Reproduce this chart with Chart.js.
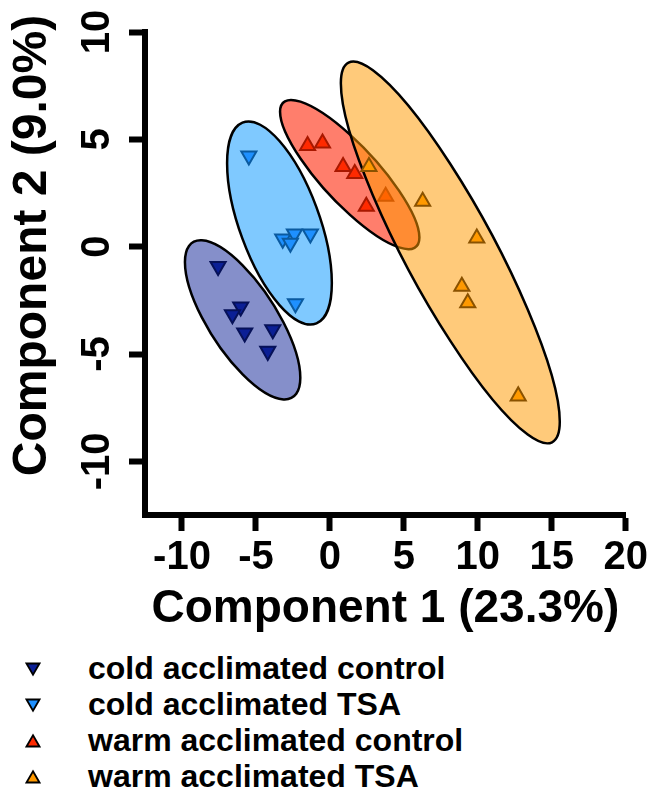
<!DOCTYPE html>
<html>
<head>
<meta charset="utf-8">
<script src="https://cdn.jsdelivr.net/npm/chart.js@4.4.1/dist/chart.umd.min.js"></script>
<style>
  html, body { margin: 0; padding: 0; background: #fff; overflow: hidden; }
  #wrap { position: absolute; left: 0; top: 0; width: 651px; height: 640px; }
  #legend { position: absolute; left: 0; top: 650px; width: 651px;
            font: bold 32px "Liberation Sans", Arial, sans-serif; color: #000; }
  .row { position: relative; height: 36px; line-height: 36px; white-space: nowrap; }
  .row svg { position: absolute; left: 25px; top: 11px; }
  .row span { position: absolute; left: 88px; top: 0; }
</style>
</head>
<body>
<div id="wrap"><canvas id="pca"></canvas></div>
<div id="legend"></div>
<script>
const groupLabels = ['cold acclimated control', 'cold acclimated TSA', 'warm acclimated control', 'warm acclimated TSA'];

// PCA scores
const coldControlX = [-7.56, -6.03, -6.59, -5.76, -3.86, -4.20];
const coldControlY = [-0.92, -2.80, -3.16, -4.01, -3.86, -4.87];
const coldTsaX = [-5.48, -3.19, -2.40, -2.67, -1.32, -2.33];
const coldTsaY = [4.23, 0.36, 0.60, 0.17, 0.60, -2.65];
const warmControlX = [-1.51, -0.50, 0.89, 1.68, 2.46, 3.77];
const warmControlY = [4.70, 4.82, 3.73, 3.40, 1.87, 2.34];
const warmTsaX = [2.64, 6.27, 9.93, 8.92, 9.32, 12.73];
const warmTsaY = [3.73, 2.11, 0.40, -1.85, -2.62, -6.96];

// group ellipses: centre + two conjugate half-axes (second one vertical), in component units
const ellipseCx = [-5.90, -3.41, 1.34, 8.14];
const ellipseCy = [-3.41, 1.10, 3.36, -0.27];
const ellipseAx = [3.90, 3.54, 4.71, 7.40];
const ellipseAy = [-2.70, -2.79, -2.93, -7.88];
const ellipseBy = [-2.54, -3.82, -1.87, -4.12];

const xTicks = [-10, -5, 0, 5, 10, 15, 20];
const yTicks = [-10, -5, 0, 5, 10];

const markerFill = ['#0b1f95', '#1e90ff', '#ff2a00', '#ff9900'];
const markerBorder = ['#061158', '#0a5aa0', '#a81800', '#8a5200'];
const ellipseFill = ['rgba(11,31,149,0.5)', 'rgba(0,148,255,0.5)', 'rgba(255,40,10,0.6)', 'rgba(255,153,0,0.52)'];
const markerRotation = [180, 180, 0, 0];

const FONT = '"Liberation Sans", Arial, sans-serif';
Chart.defaults.font.family = FONT;
Chart.defaults.font.weight = 'bold';
Chart.defaults.color = '#000';

function points(xs, ys) {
    return xs.map((x, i) => ({ x: x, y: ys[i] }));
}

const allX = [coldControlX, coldTsaX, warmControlX, warmTsaX];
const allY = [coldControlY, coldTsaY, warmControlY, warmTsaY];

const datasets = groupLabels.map((label, i) => ({
    label: label,
    data: points(allX[i], allY[i]),
    order: 3 - i,   // first group drawn first, last on top
    pointStyle: 'triangle',
    rotation: markerRotation[i],
    pointRadius: 8.7,
    pointBorderWidth: 2,
    backgroundColor: markerFill[i],
    borderColor: markerBorder[i],
    showLine: false
}));

// ellipse drawn right before its own group's markers
const ellipsePlugin = {
    id: 'ellipses',
    beforeDatasetDraw(chart, args) {
        const i = args.index;
        const xs = chart.scales.x, ys = chart.scales.y;
        const cx = xs.getPixelForValue(ellipseCx[i]);
        const cy = ys.getPixelForValue(ellipseCy[i]);
        const ax = xs.getPixelForValue(ellipseCx[i] + ellipseAx[i]) - cx;
        const ay = ys.getPixelForValue(ellipseCy[i] + ellipseAy[i]) - cy;
        const by = ys.getPixelForValue(ellipseCy[i] + ellipseBy[i]) - cy;
        const ctx = chart.ctx;
        ctx.save();
        ctx.beginPath();
        ctx.save();
        ctx.transform(ax, ay, 0, by, cx, cy);
        ctx.arc(0, 0, 1, 0, Math.PI * 2);
        ctx.restore();
        ctx.fillStyle = ellipseFill[i];
        ctx.fill();
        ctx.lineWidth = 2.5;
        ctx.strokeStyle = '#000';
        ctx.stroke();
        ctx.restore();
    }
};

// y title sits a bit above the middle of the axis in the original
const yTitlePlugin = {
    id: 'yTitle',
    afterDraw(chart) {
        const area = chart.chartArea;
        const ctx = chart.ctx;
        ctx.save();
        ctx.fillStyle = '#000';
        // close the little notch where the two axis lines meet
        ctx.fillRect(area.left - 3, area.bottom - 3, 6, 6);
        ctx.translate(33, (area.top + area.bottom) / 2 - 28);
        ctx.rotate(-Math.PI / 2);
        ctx.font = 'bold 48px ' + FONT;
        ctx.textAlign = 'center';
        ctx.textBaseline = 'middle';
        ctx.fillText('Component 2 (9.0%)', 0, 0);
        ctx.restore();
    }
};

const axisCommon = {
    type: 'linear',
    border: { display: true, color: '#000', width: 6 },
    grid: { drawOnChartArea: false, drawTicks: true, tickLength: 16, tickWidth: 6, tickColor: '#000' }
};

new Chart(document.getElementById('pca'), {
    type: 'scatter',
    data: { datasets: datasets },
    options: {
        responsive: true,
        maintainAspectRatio: false,
        animation: false,
        events: [],
        layout: { padding: { left: 0, right: 23, top: 32, bottom: 0 } },
        plugins: { legend: { display: false }, tooltip: { enabled: false } },
        scales: {
            x: {
                ...axisCommon,
                min: -12.5, max: 20,
                afterBuildTicks: (scale) => { scale.ticks = xTicks.map(v => ({ value: v })); },
                ticks: { autoSkip: false, maxRotation: 0, padding: 3, font: { size: 40, weight: 'bold' } },
                title: { display: true, text: 'Component 1 (23.3%)', font: { size: 46, weight: 'bold' }, padding: { top: 0, bottom: 3 } },
                afterFit: (scale) => { scale.height = 125; }
            },
            y: {
                ...axisCommon,
                min: -12.5, max: 10,
                afterBuildTicks: (scale) => { scale.ticks = yTicks.map(v => ({ value: v })); },
                ticks: { autoSkip: false, minRotation: 90, maxRotation: 90, crossAlign: 'center', padding: 2, font: { size: 40, weight: 'bold' } },
                afterFit: (scale) => { scale.width = 145; }
            }
        }
    },
    plugins: [ellipsePlugin, yTitlePlugin]
});

// legend below the plot
const legend = document.getElementById('legend');
groupLabels.forEach((label, i) => {
    const row = document.createElement('div');
    row.className = 'row';
    const tri = markerRotation[i] === 180
        ? '1.5,2.5 14.5,2.5 8,13.8'
        : '8,2.2 14.5,13.5 1.5,13.5';
    row.innerHTML = '<svg width="16" height="16"><polygon points="' + tri + '" fill="' + markerFill[i] +
        '" stroke="#000" stroke-width="1.8" stroke-linejoin="miter"/></svg><span>' + label + '</span>';
    legend.appendChild(row);
});
</script>
</body>
</html>
